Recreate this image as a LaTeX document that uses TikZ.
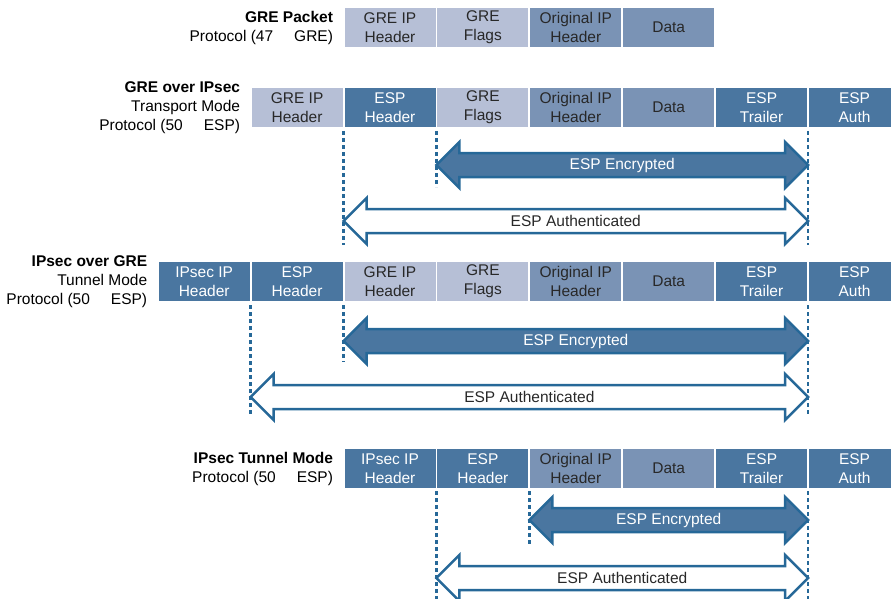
\documentclass[tikz,border=0pt]{standalone}
\usepackage{fontspec}
\setmainfont{Liberation Sans}
\usetikzlibrary{calc, positioning}

\definecolor{gretint}{RGB}{182,191,214}
\definecolor{origtint}{RGB}{122,147,181}
\definecolor{esptint}{RGB}{74,118,160}
\definecolor{espedge}{RGB}{38,104,152}
\definecolor{fieldtext}{RGB}{40,40,40}

\tikzset{
    field/.style={rectangle, minimum width=91pt, minimum height=39pt, inner sep=0pt, outer sep=0pt,
        align=center, font=\fontsize{15.5}{19}\selectfont},
    grefield/.style={field, fill=gretint, text=fieldtext},
    origfield/.style={field, fill=origtint, text=fieldtext},
    espfield/.style={field, fill=esptint, text=white},
    rowlabel/.style={anchor=east, align=right, text=black, font=\fontsize{15.5}{19}\selectfont},
    boundary/.style={espedge, line width=2.5pt, dash pattern=on 4pt off 3pt},
    encband/.style={fill=esptint, draw=espedge, line width=2.5pt},
    authband/.style={fill=white, draw=espedge, line width=2.5pt},
    enctext/.style={text=white, font=\fontsize{15.5}{19}\selectfont},
    authtext/.style={text=fieldtext, font=\fontsize{15.5}{19}\selectfont}
}

% double headed band between two tips: kind, left tip, right tip, name, text
\newcommand{\espband}[5]{%
    \draw[#1band] (#2) -- ++(23,-23) -- ++(0,11) -- ($(#3)+(-23,-12)$) -- ++(0,-11)
        -- (#3) -- ++(-23,23) -- ++(0,-11) -- ($(#2)+(23,12)$) -- ++(0,11) -- cycle;
    \node[#1text] (#4) at ($(#2)!0.5!(#3)$) {#5};
}

\begin{document}
\begin{tikzpicture}[x=1pt, y=-1pt]

    \useasboundingbox (0,0) rectangle (891,599);

    % GRE packet
    \node[grefield] (r1greip) at (390,27.5) {GRE IP\\Header};
    \node[grefield, right=1.9pt of r1greip] (r1flags) {GRE\\Flags};
    \node[origfield, right=1.9pt of r1flags] (r1orig) {Original IP\\Header};
    \node[origfield, right=1.9pt of r1orig] (r1data) {Data};
    \node[rowlabel, left=8pt of r1greip] (r1label) {\textbf{GRE Packet}\\Protocol (47\hspace{21pt}GRE)};

    % GRE over IPsec, transport mode
    \node[grefield] (r2greip) at (297.1,107.5) {GRE IP\\Header};
    \node[espfield, right=1.9pt of r2greip] (r2esp) {ESP\\Header};
    \node[grefield, right=1.9pt of r2esp] (r2flags) {GRE\\Flags};
    \node[origfield, right=1.9pt of r2flags] (r2orig) {Original IP\\Header};
    \node[origfield, right=1.9pt of r2orig] (r2data) {Data};
    \node[espfield, right=1.9pt of r2data] (r2trailer) {ESP\\Trailer};
    \node[espfield, right=1.9pt of r2trailer] (r2auth) {ESP\\Auth};
    \node[rowlabel, left=8pt of r2greip] (r2label) {\textbf{GRE over IPsec}\\Transport Mode\\Protocol (50\hspace{21pt}ESP)};

    \coordinate (r2a) at ($(r2greip.south east)!0.5!(r2esp.south west)$);
    \coordinate (r2b) at ($(r2esp.south east)!0.5!(r2flags.south west)$);
    \coordinate (r2c) at ($(r2trailer.south east)!0.5!(r2auth.south west)$);
    \draw[boundary] ($(r2a)+(0,4)$) -- (r2a |- 0,245);
    \draw[boundary] ($(r2b)+(0,4)$) -- (r2b |- 0,187);
    \draw[boundary] ($(r2c)+(0,4)$) -- (r2c |- 0,245);
    \coordinate (r2encL) at (r2b |- 0,165);
    \coordinate (r2encR) at (r2c |- 0,165);
    \coordinate (r2authL) at (r2a |- 0,221);
    \coordinate (r2authR) at (r2c |- 0,221);
    \espband{enc}{r2encL}{r2encR}{r2enc}{ESP Encrypted}
    \espband{auth}{r2authL}{r2authR}{r2authd}{ESP Authenticated}

    % IPsec over GRE, tunnel mode
    \node[espfield] (r3ipsec) at (204.2,281.5) {IPsec IP\\Header};
    \node[espfield, right=1.9pt of r3ipsec] (r3esp) {ESP\\Header};
    \node[grefield, right=1.9pt of r3esp] (r3greip) {GRE IP\\Header};
    \node[grefield, right=1.9pt of r3greip] (r3flags) {GRE\\Flags};
    \node[origfield, right=1.9pt of r3flags] (r3orig) {Original IP\\Header};
    \node[origfield, right=1.9pt of r3orig] (r3data) {Data};
    \node[espfield, right=1.9pt of r3data] (r3trailer) {ESP\\Trailer};
    \node[espfield, right=1.9pt of r3trailer] (r3auth) {ESP\\Auth};
    \node[rowlabel, left=8pt of r3ipsec] (r3label) {\textbf{IPsec over GRE}\\Tunnel Mode\\Protocol (50\hspace{21pt}ESP)};

    \coordinate (r3a) at ($(r3ipsec.south east)!0.5!(r3esp.south west)$);
    \coordinate (r3b) at ($(r3esp.south east)!0.5!(r3greip.south west)$);
    \coordinate (r3c) at ($(r3trailer.south east)!0.5!(r3auth.south west)$);
    \draw[boundary] ($(r3a)+(0,4)$) -- (r3a |- 0,415);
    \draw[boundary] ($(r3b)+(0,4)$) -- (r3b |- 0,362);
    \draw[boundary] ($(r3c)+(0,4)$) -- (r3c |- 0,415);
    \coordinate (r3encL) at (r3b |- 0,341);
    \coordinate (r3encR) at (r3c |- 0,341);
    \coordinate (r3authL) at (r3a |- 0,397);
    \coordinate (r3authR) at (r3c |- 0,397);
    \espband{enc}{r3encL}{r3encR}{r3enc}{ESP Encrypted}
    \espband{auth}{r3authL}{r3authR}{r3authd}{ESP Authenticated}

    % IPsec tunnel mode
    \node[espfield] (r4ipsec) at (390,468.5) {IPsec IP\\Header};
    \node[espfield, right=1.9pt of r4ipsec] (r4esp) {ESP\\Header};
    \node[origfield, right=1.9pt of r4esp] (r4orig) {Original IP\\Header};
    \node[origfield, right=1.9pt of r4orig] (r4data) {Data};
    \node[espfield, right=1.9pt of r4data] (r4trailer) {ESP\\Trailer};
    \node[espfield, right=1.9pt of r4trailer] (r4auth) {ESP\\Auth};
    \node[rowlabel, left=8pt of r4ipsec] (r4label) {\textbf{IPsec Tunnel Mode}\\Protocol (50\hspace{21pt}ESP)};

    \coordinate (r4a) at ($(r4ipsec.south east)!0.5!(r4esp.south west)$);
    \coordinate (r4b) at ($(r4esp.south east)!0.5!(r4orig.south west)$);
    \coordinate (r4c) at ($(r4trailer.south east)!0.5!(r4auth.south west)$);
    \draw[boundary] ($(r4a)+(0,3)$) -- (r4a |- 0,599);
    \draw[boundary] ($(r4b)+(0,3)$) -- (r4b |- 0,545);
    \draw[boundary] ($(r4c)+(0,3)$) -- (r4c |- 0,599);
    \coordinate (r4encL) at (r4b |- 0,520);
    \coordinate (r4encR) at (r4c |- 0,520);
    \coordinate (r4authL) at (r4a |- 0,578);
    \coordinate (r4authR) at (r4c |- 0,578);
    \espband{enc}{r4encL}{r4encR}{r4enc}{ESP Encrypted}
    \espband{auth}{r4authL}{r4authR}{r4authd}{ESP Authenticated}

\end{tikzpicture}
\end{document}
